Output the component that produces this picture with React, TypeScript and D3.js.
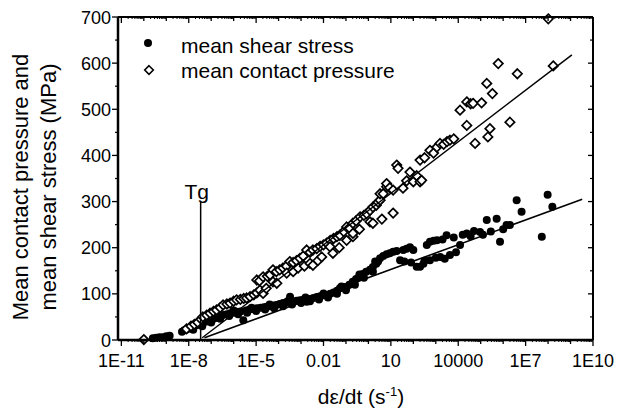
import React from "react";
import * as d3 from "d3";

// x values stored as log10 of strain rate (s^-1)
const xTickExponents = [-11, -8, -5, -2, 1, 4, 7, 10];
const xTickLabels = ["1E-11", "1E-8", "1E-5", "0.01", "10", "10000", "1E7", "1E10"];
const yTicks = [0, 100, 200, 300, 400, 500, 600, 700];

const shearLogRate = [
  -9.6, -9.45, -9.3, -9.15, -9.0, -8.85, -8.3, -8.2, -8.1, -7.94, -7.8, -7.65, -7.5, -7.35, -7.2,
  -7.05, -6.9, -6.75, -6.6, -6.47, -6.3, -6.15, -6.0, -5.87, -5.7, -5.57, -5.45, -5.3, -5.15, -4.97,
  -4.8, -4.65, -4.53, -4.4, -4.25, -4.1, -3.95, -3.8, -3.65, -3.49, -3.35, -3.2, -3.05, -2.9, -2.75,
  -2.6, -2.45, -2.3, -2.15, -2.0, -1.86, -1.7, -1.55, -1.4, -1.27, -1.1, -0.97, -0.85, -0.7, -0.55,
  -0.4, -0.25, -0.1, 0.07, 0.2, 0.35, 0.43, 0.52, 0.66, 0.81, 0.95, 1.1, 1.26, 1.41, 1.55,
  1.7, 1.85, 2.0, 2.15, 2.3, 2.45, 2.6, 2.74, 2.74, 2.9, 3.05, 3.2, 3.3, 3.48, 3.63,
  3.8, 4.08, 4.2, 4.38, 4.55, 4.7, 4.97, 5.1, 5.27, 5.45, 5.71, 5.86, 6.0, 6.15, 6.3,
  6.6, 6.82, 7.72, 7.98, 8.19,
  -7.8, -7.4, -7.0, -6.6, -6.2, -5.8, -5.4, -5.0, -4.6, -4.2, -3.8, -3.4, -3.0, -2.6, -2.2,
  -1.8, -1.4, -1.0, -0.6, -0.2, 0.2,
  -6.8, -6.0, -5.2, -4.4, -3.6, -2.8, -2.0, -1.2, -0.4, 0.3,
  1.6, 1.9, 2.5, 3.0, 3.4, 3.9,
];
const shearStress = [
  4, 5, 6, 6, 8, 9, 18, 21, 23, 25, 28, 32, 34, 38, 40,
  43, 46, 48, 51, 54, 56, 58, 59, 61, 62, 43, 64, 66, 67, 69,
  70, 71, 72, 73, 75, 76, 78, 80, 81, 94, 83, 85, 86, 87, 83,
  89, 91, 93, 95, 97, 97, 100, 103, 107, 112, 115, 115, 120, 126, 132,
  138, 143, 148, 152, 158, 165, 170, 177, 182, 186, 188, 191, 193, 173, 195,
  198, 201, 195, 159, 159, 165, 206, 213, 173, 215, 216, 180, 218, 227, 184,
  222, 206, 228, 231, 225, 236, 234, 228, 260, 235, 263, 213, 240, 249, 249,
  303, 278, 224, 315, 289,
  22, 30, 38, 46, 52, 56, 59, 63, 66, 69, 73, 77, 80, 84, 88,
  92, 100, 108, 120, 135, 148,
  55, 64, 70, 77, 84, 92, 101, 116, 142, 170,
  170, 168, 172, 178, 176, 190,
];

const pressureLogRate = [
  -10.0, -8.1, -7.9, -7.75, -7.6, -7.45, -7.37, -7.2, -7.05, -6.9, -6.76, -6.6, -6.47, -6.3, -6.16,
  -6.0, -5.87, -5.7, -5.55, -5.42, -5.27, -5.1, -4.97, -4.83, -4.69, -4.55,
  -4.97, -4.85, -4.69, -4.5, -4.38, -4.25, -4.1, -3.95, -3.8, -3.65, -3.5, -3.35, -3.2, -3.05, -2.9,
  -2.75, -2.6, -2.47, -2.3, -2.15, -2.0, -1.86, -1.7, -1.55, -1.4, -1.27, -1.1, -0.97, -0.85, -0.69,
  -0.55, -0.37, -0.2, -0.08, 0.07, 0.2, 0.35, 0.43, 0.52, 0.52, 0.66, 0.81, 0.81, 0.95, 1.1,
  1.26, 1.32, 1.54, 1.7, 1.85, 2.0, 2.15, 2.3, 2.3, 2.37, 2.5, 2.74, 2.9, 3.05, 3.19,
  3.35, 3.5, 3.63, 3.8, 4.08, 4.38, 4.38, 4.55, 4.66, 4.75, 5.04, 5.27, 5.32, 5.41, 5.52,
  5.78, 6.3, 6.63, 8.01, 8.23,
  -4.25, -4.08, -3.64, -3.35, -3.13, -2.85, -2.6, -2.47, -2.25, -2.08, -1.71, -1.58, -1.3, -0.97, -0.69,
  -0.69, -0.4, 0.07, 0.2, 0.6, 1.1,
];
const pressureValue = [
  1, 24, 30, 34, 38, 45, 50, 54, 58, 62, 65, 70, 76, 78, 80,
  84, 87, 88, 90, 91, 94, 98, 102, 108, 101, 112,
  130, 128, 137, 138, 141, 152, 148, 152, 156, 160, 170, 168, 172, 177, 182,
  195, 190, 195, 198, 203, 206, 210, 216, 220, 224, 227, 235, 245, 243, 253,
  258, 267, 270, 274, 281, 288, 292, 299, 303, 317, 317, 332, 339, 330, 325,
  379, 372, 329, 345, 364, 343, 356, 343, 390, 346, 395, 411, 405, 418, 426,
  424, 430, 433, 436, 498, 465, 516, 512, 513, 426, 514, 556, 440, 458, 534,
  599, 472, 577, 696, 594,
  126, 123, 145, 148, 156, 160, 166, 162, 172, 180, 202, 188, 200, 216, 224,
  231, 240, 256, 253, 262, 275,
];

const shearFitLogRate = [-7.3, 9.52];
const shearFitStress = [5, 305];
const pressureFitLogRate = [-7.4, 9.06];
const pressureFitValue = [5, 618];

const tgLogRate = -7.47;
const tgTop = 300;

const legendLabels = ["mean shear stress", "mean contact pressure"];

const W = 619;
const H = 411;
const L = 118, R = 593, T = 17, B = 340;
const FONT = "'Liberation Sans', Arial, Helvetica, sans-serif";

export default function App() {
  const x = d3.scaleLinear().domain([-11.15, 10]).range([L, R]);
  const y = d3.scaleLinear().domain([0, 700]).range([B, T]);

  const line = d3.line<[number, number]>().x((d) => x(d[0])).y((d) => y(d[1]));
  const shearFit: [number, number][] = shearFitLogRate.map((v, i) => [v, shearFitStress[i]]);
  const pressFit: [number, number][] = pressureFitLogRate.map((v, i) => [v, pressureFitValue[i]]);

  const diamond = (cx: number, cy: number, s = 4.7) =>
    `M${cx},${cy - s}L${cx + s},${cy}L${cx},${cy + s}L${cx - s},${cy}Z`;

  const decades = d3.range(-11, 11);
  const minorLog: number[] = [];
  for (let d = -11; d < 10; d++) {
    for (let k = 2; k <= 9; k++) minorLog.push(d + Math.log10(k));
  }
  const yMinor = d3.range(50, 700, 100);

  return (
    <svg width={W} height={H} style={{ position: "absolute", left: 0, top: 0, background: "#fff" }} fontFamily={FONT}>
      <rect x={0} y={0} width={W} height={H} fill="#fff" />
      {shearLogRate.map((v, i) => (
        <circle key={"s" + i} cx={x(v)} cy={y(shearStress[i])} r={4} fill="#000" />
      ))}
      {pressureLogRate.map((v, i) => (
        <path key={"p" + i} d={diamond(x(v), y(pressureValue[i]))} fill="#fff" stroke="#000" strokeWidth={1.7} />
      ))}
      <path d={line(shearFit) || ""} fill="none" stroke="#000" strokeWidth={1.6} />
      <path d={line(pressFit) || ""} fill="none" stroke="#000" strokeWidth={1.4} />
      <line x1={x(tgLogRate)} x2={x(tgLogRate)} y1={y(0)} y2={y(tgTop)} stroke="#000" strokeWidth={1.5} />
      <text x={x(tgLogRate) - 4} y={y(tgTop) - 3} fontSize={21} textAnchor="middle">Tg</text>

      <line x1={L} x2={R} y1={B} y2={B} stroke="#000" strokeWidth={2.5} />
      <line x1={L} x2={R} y1={T} y2={T} stroke="#000" strokeWidth={2} />
      <line x1={L} x2={L} y1={T} y2={B} stroke="#000" strokeWidth={2.5} />
      <line x1={R} x2={R} y1={T} y2={B} stroke="#000" strokeWidth={2} />

      {decades.map((d) => {
        const major = xTickExponents.includes(d);
        const len = major ? 6 : 4;
        return (
          <g key={"xd" + d}>
            <line x1={x(d)} x2={x(d)} y1={B} y2={B + len} stroke="#000" strokeWidth={1.3} />
            <line x1={x(d)} x2={x(d)} y1={T} y2={T + len} stroke="#000" strokeWidth={1.3} />
          </g>
        );
      })}
      {minorLog.map((m, i) => (
        <g key={"xm" + i}>
          <line x1={x(m)} x2={x(m)} y1={B} y2={B + 2} stroke="#000" strokeWidth={1} />
          <line x1={x(m)} x2={x(m)} y1={T} y2={T + 2} stroke="#000" strokeWidth={1} />
        </g>
      ))}
      {xTickExponents.map((d, i) => (
        <text key={"xl" + d} x={x(d)} y={367} fontSize={18} textAnchor="middle">{xTickLabels[i]}</text>
      ))}

      {yTicks.map((t) => (
        <g key={"yt" + t}>
          <line x1={L - 6} x2={L} y1={y(t)} y2={y(t)} stroke="#000" strokeWidth={1.3} />
          <line x1={R - 5} x2={R} y1={y(t)} y2={y(t)} stroke="#000" strokeWidth={1.3} />
          <text x={111} y={y(t) + 6.5} fontSize={18} textAnchor="end">{t}</text>
        </g>
      ))}
      {yMinor.map((t) => (
        <g key={"ym" + t}>
          <line x1={L - 3} x2={L} y1={y(t)} y2={y(t)} stroke="#000" strokeWidth={1.2} />
          <line x1={R - 3} x2={R} y1={y(t)} y2={y(t)} stroke="#000" strokeWidth={1.2} />
        </g>
      ))}

      <circle cx={148} cy={43} r={4} fill="#000" />
      <text x={181} y={53} fontSize={21}>{legendLabels[0]}</text>
      <path d={diamond(149, 70, 4.3)} fill="#fff" stroke="#000" strokeWidth={1.6} />
      <text x={181} y={78} fontSize={21}>{legendLabels[1]}</text>

      <text x={361} y={404} fontSize={21} textAnchor="middle">
        dε/dt (s<tspan dy={-8} fontSize={13}>-1</tspan><tspan dy={8}>)</tspan>
      </text>
      <g transform="translate(28,187) rotate(-90)">
        <text x={0} y={0} fontSize={22} textAnchor="middle">Mean contact pressure and</text>
        <text x={0} y={28} fontSize={22} textAnchor="middle">mean shear stress (MPa)</text>
      </g>
    </svg>
  );
}
